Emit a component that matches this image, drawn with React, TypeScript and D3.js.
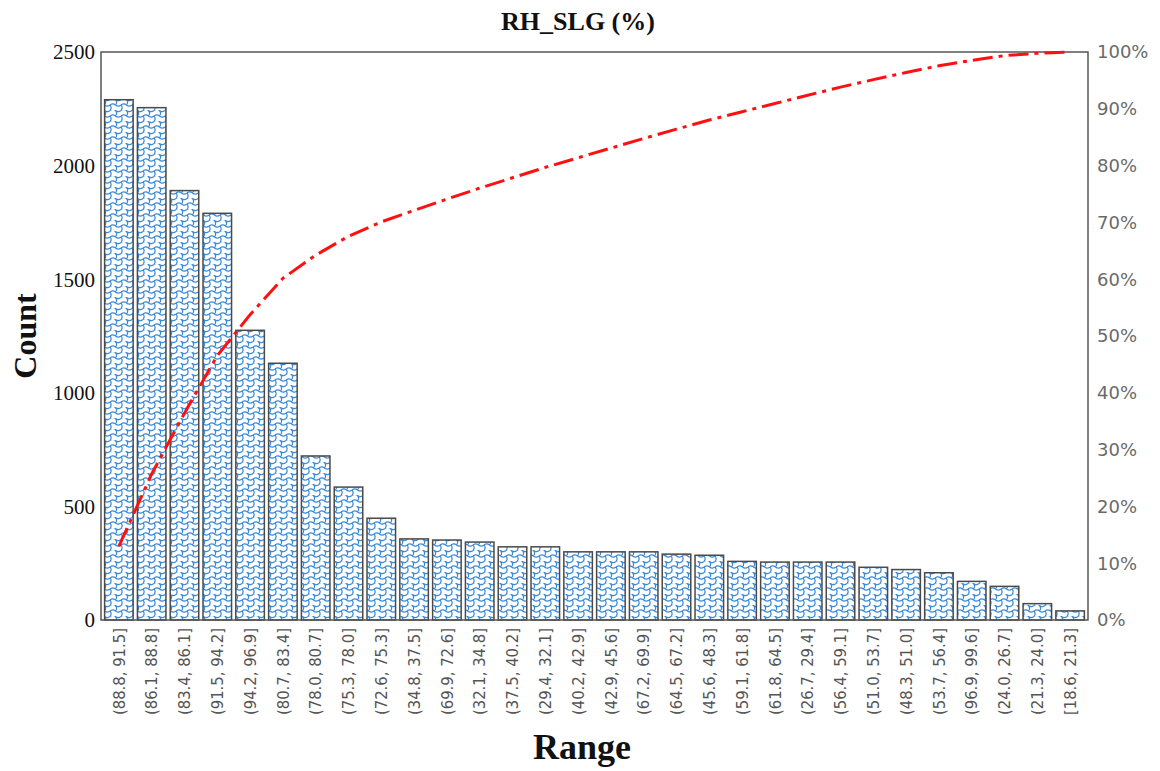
import React from "react";
import * as d3 from "d3";

const categories = [
  "(88.8, 91.5]", "(86.1, 88.8]", "(83.4, 86.1]", "(91.5, 94.2]", "(94.2, 96.9]",
  "(80.7, 83.4]", "(78.0, 80.7]", "(75.3, 78.0]", "(72.6, 75.3]", "(34.8, 37.5]",
  "(69.9, 72.6]", "(32.1, 34.8]", "(37.5, 40.2]", "(29.4, 32.1]", "(40.2, 42.9]",
  "(42.9, 45.6]", "(67.2, 69.9]", "(64.5, 67.2]", "(45.6, 48.3]", "(59.1, 61.8]",
  "(61.8, 64.5]", "(26.7, 29.4]", "(56.4, 59.1]", "(51.0, 53.7]", "(48.3, 51.0]",
  "(53.7, 56.4]", "(96.9, 99.6]", "(24.0, 26.7]", "(21.3, 24.0]", "[18.6, 21.3]",
];
const counts = [
  2290, 2255, 1890, 1790, 1275, 1130, 722, 585, 448, 357,
  352, 343, 322, 322, 300, 300, 300, 290, 285, 258,
  255, 255, 255, 232, 222, 208, 170, 148, 72, 40,
];
const leftTicks = [0, 500, 1000, 1500, 2000, 2500];
const rightTicks = [0, 10, 20, 30, 40, 50, 60, 70, 80, 90, 100];

export default function App() {
  const W = 1160, H = 771;
  const L = 101, R = 1088, T = 52, B = 620;
  const x = d3.scaleBand<string>().domain(categories).range([L, R]).paddingInner(0.13).paddingOuter(0.11);
  const y = d3.scaleLinear().domain([0, 2500]).range([B, T]);
  const yp = d3.scaleLinear().domain([0, 100]).range([B, T]);
  const total = d3.sum(counts);
  const cum = d3.cumsum(counts).map((c) => (c / total) * 100);
  const line = d3.line<number>()
    .x((_, i) => (x(categories[i]) as number) + x.bandwidth() / 2)
    .y((d) => yp(d));

  return (
    <svg width={W} height={H} style={{ position: "absolute", left: 0, top: 0, background: "#fff" }}>
      <defs>
        <pattern id="wave" patternUnits="userSpaceOnUse" width="11" height="11">
          <rect width="11" height="11" fill="#fff" />
          <path d="M0,0.5 Q2.75,-1.8 5.5,0.5 T11,0.5 M0,6 Q2.75,3.7 5.5,6 T11,6 M5.5,0.5 Q7.7,3.2 5.5,6 M0,6 Q2.2,8.7 0,11.5 M11,6 Q13.2,8.7 11,11.5"
            fill="none" stroke="#3a8ad6" strokeWidth="1.2" />
        </pattern>
      </defs>
      <text x={578} y={30} textAnchor="middle" fontFamily="Liberation Serif" fontWeight="bold" fontSize={26} fill="#111">RH_SLG (%)</text>
      <text transform={`translate(36,336) rotate(-90)`} textAnchor="middle" fontFamily="Liberation Serif" fontWeight="bold" fontSize={32} fill="#111">Count</text>
      <text x={582} y={759} textAnchor="middle" fontFamily="Liberation Serif" fontWeight="bold" fontSize={36} fill="#111">Range</text>

      {counts.map((c, i) => (
        <rect key={i} x={x(categories[i])} y={y(c)} width={x.bandwidth()} height={B - y(c)}
          fill="url(#wave)" stroke="#4a4a4a" strokeWidth={1.5} />
      ))}

      <rect x={L} y={T} width={R - L} height={B - T} fill="none" stroke="#555" strokeWidth={1.5} />

      <path d={line(cum) || ""} fill="none" stroke="#ff1010" strokeWidth={3} strokeDasharray="20,6,4,6" />

      {leftTicks.map((t) => (
        <text key={t} x={95} y={y(t)} dy="0.35em" textAnchor="end" fontFamily="Liberation Serif" fontSize={21} fill="#111">{t}</text>
      ))}
      {rightTicks.map((t) => (
        <text key={t} x={1097} y={yp(t)} dy="0.36em" textAnchor="start" fontFamily="DejaVu Sans" fontSize={18} fill="#6a6a6a">{t}%</text>
      ))}
      {categories.map((c) => (
        <text key={c} transform={`translate(${(x(c) as number) + x.bandwidth() / 2},628) rotate(-90)`}
          textAnchor="end" dy="0.35em" fontFamily="DejaVu Sans Condensed, DejaVu Sans" fontSize={16.5} fill="#555">{c}</text>
      ))}
    </svg>
  );
}
